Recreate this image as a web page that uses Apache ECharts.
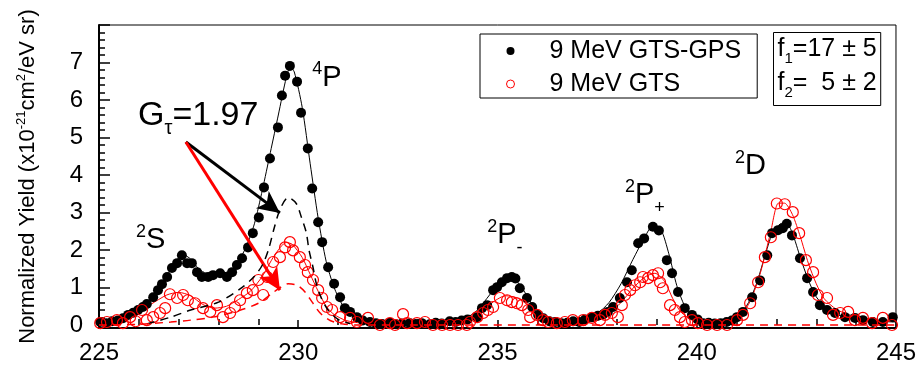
<!DOCTYPE html>
<html>
<head>
<meta charset="utf-8">
<title>Normalized Yield</title>
<script src="https://cdn.jsdelivr.net/npm/echarts@6/dist/echarts.min.js"></script>
<style>
  html, body { margin: 0; padding: 0; background: #fff; }
  #chart { width: 919px; height: 367px; }
</style>
</head>
<body>
<div id="chart"></div>
<script>
// Electron energy (eV) vs normalized yield, two ion-beam settings.
const seriesNames = ['9 MeV GTS-GPS', '9 MeV GTS'];

// 9 MeV GTS-GPS measured points [energy, yield]
const gtsGpsPoints = [
  [225.03, 0.08], [225.18, 0.05], [225.33, 0.10], [225.47, 0.12], [225.60, 0.18],
  [225.73, 0.27], [225.86, 0.33], [225.98, 0.40], [226.10, 0.48], [226.20, 0.56],
  [226.36, 0.74], [226.48, 0.93], [226.58, 1.09], [226.71, 1.28], [226.83, 1.52],
  [226.96, 1.65], [227.08, 1.86], [227.21, 1.65], [227.33, 1.65], [227.46, 1.41],
  [227.58, 1.28], [227.74, 1.28], [227.86, 1.33], [228.04, 1.38], [228.21, 1.28],
  [228.34, 1.41], [228.46, 1.60], [228.59, 1.78], [228.74, 2.07], [228.86, 2.45],
  [229.01, 2.87], [229.14, 3.67], [229.29, 4.44], [229.49, 5.27], [229.59, 6.12],
  [229.67, 6.65], [229.79, 6.91], [229.97, 6.49], [230.07, 5.66], [230.24, 4.71],
  [230.35, 3.64], [230.50, 2.74], [230.60, 2.21], [230.75, 1.54], [230.90, 1.10],
  [231.05, 0.74], [231.17, 0.45], [231.30, 0.35], [231.47, 0.21], [231.62, 0.12],
  [231.80, 0.08], [231.95, 0.05], [232.10, 0.03], [232.30, 0.06], [232.45, 0.02],
  [232.60, 0.04], [232.80, 0.05], [232.95, 0.03], [233.10, 0.05], [233.30, 0.02],
  [233.45, 0.06], [233.60, 0.04], [233.80, 0.10], [233.95, 0.08], [234.10, 0.12],
  [234.25, 0.15], [234.49, 0.21], [234.61, 0.45], [234.74, 0.53], [234.89, 0.93],
  [234.99, 1.01], [235.11, 1.14], [235.24, 1.25], [235.36, 1.28], [235.45, 1.24],
  [235.56, 0.98], [235.74, 0.72], [235.87, 0.48], [236.02, 0.27], [236.15, 0.18],
  [236.30, 0.10], [236.45, 0.08], [236.60, 0.05], [236.75, 0.06], [236.90, 0.10],
  [237.05, 0.08], [237.20, 0.15], [237.37, 0.21], [237.52, 0.25], [237.65, 0.28],
  [237.77, 0.35], [237.90, 0.48], [238.07, 0.72], [238.25, 1.14], [238.37, 1.46],
  [238.53, 2.18], [238.68, 2.31], [238.90, 2.62], [239.05, 2.52], [239.25, 1.73],
  [239.38, 1.38], [239.53, 0.88], [239.70, 0.45], [239.88, 0.27], [240.02, 0.15],
  [240.16, 0.05], [240.30, 0.06], [240.45, 0.04], [240.60, 0.05], [240.75, 0.08],
  [240.88, 0.12], [241.01, 0.21], [241.16, 0.35], [241.39, 0.74], [241.59, 1.19],
  [241.77, 1.86], [241.89, 2.45], [242.04, 2.53], [242.16, 2.58], [242.26, 2.70],
  [242.39, 2.39], [242.59, 1.78], [242.77, 1.25], [242.92, 0.88], [243.09, 0.53],
  [243.27, 0.40], [243.47, 0.32], [243.72, 0.21], [243.97, 0.19], [244.17, 0.13],
  [244.42, 0.08], [244.67, 0.08], [244.92, 0.21]
];

// 9 MeV GTS measured points [energy, yield]
const gtsPoints = [
  [225.03, 0.05], [225.20, 0.08], [225.45, 0.13], [225.60, 0.05], [225.78, 0.21],
  [225.92, 0.10], [226.08, 0.40], [226.20, 0.13], [226.36, 0.21], [226.53, 0.32],
  [226.66, 0.45], [226.78, 0.82], [226.96, 0.72], [227.11, 0.80], [227.23, 0.66],
  [227.41, 0.58], [227.61, 0.45], [227.79, 0.35], [227.96, 0.53], [228.11, 0.21],
  [228.29, 0.32], [228.41, 0.48], [228.54, 0.66], [228.71, 0.85], [228.86, 0.93],
  [229.00, 1.20], [229.12, 0.80], [229.22, 1.28], [229.37, 1.68], [229.54, 1.81],
  [229.67, 2.07], [229.79, 2.21], [229.87, 1.99], [230.04, 1.81], [230.17, 1.60],
  [230.24, 1.41], [230.37, 1.20], [230.50, 0.93], [230.60, 0.72], [230.72, 0.48],
  [230.85, 0.40], [231.05, 0.21], [231.30, 0.19], [231.47, 0.08], [231.75, 0.19],
  [232.05, 0.00], [232.30, 0.05], [232.43, 0.00], [232.63, 0.29], [232.73, 0.05],
  [232.98, 0.05], [233.18, 0.08], [233.38, 0.00], [233.61, 0.00], [233.81, 0.00],
  [234.01, 0.00], [234.23, 0.00], [234.31, 0.08], [234.49, 0.21], [234.64, 0.32],
  [234.76, 0.40], [234.89, 0.48], [235.06, 0.72], [235.24, 0.66], [235.36, 0.61],
  [235.49, 0.58], [235.61, 0.53], [235.77, 0.40], [235.82, 0.21], [235.99, 0.27],
  [236.14, 0.13], [236.27, 0.08], [236.49, 0.05], [236.69, 0.08], [236.89, 0.13],
  [237.15, 0.13], [237.37, 0.19], [237.57, 0.13], [237.70, 0.27], [237.87, 0.32],
  [238.02, 0.21], [238.12, 0.53], [238.20, 0.80], [238.33, 0.93], [238.45, 1.06],
  [238.58, 1.14], [238.65, 1.28], [238.78, 1.25], [238.90, 1.33], [239.03, 1.38],
  [239.08, 1.14], [239.15, 0.98], [239.33, 0.53], [239.45, 0.40], [239.58, 0.21],
  [239.70, 0.08], [239.88, 0.13], [240.03, 0.05], [240.26, 0.00], [240.51, 0.00],
  [240.76, 0.00], [241.01, 0.13], [241.16, 0.27], [241.34, 0.58], [241.54, 1.14],
  [241.71, 1.81], [241.86, 2.34], [242.01, 3.24], [242.21, 3.22], [242.41, 3.01],
  [242.57, 2.45], [242.74, 1.73], [242.92, 1.41], [243.04, 0.80], [243.27, 0.72],
  [243.42, 0.27], [243.60, 0.32], [243.80, 0.35], [243.97, 0.13], [244.17, 0.19],
  [244.40, 0.05], [244.67, 0.19], [244.90, 0.00]
];

// Fitted curves through each data set
const gtsGpsFit = [
  [225.0, 0.03], [225.4, 0.08], [225.8, 0.22], [226.1, 0.42], [226.4, 0.80],
  [226.7, 1.30], [226.9, 1.65], [227.1, 1.88], [227.3, 1.76], [227.5, 1.50],
  [227.7, 1.38], [228.0, 1.37], [228.3, 1.45], [228.5, 1.70], [228.7, 2.10],
  [228.9, 2.70], [229.1, 3.60], [229.3, 4.60], [229.5, 5.60], [229.7, 6.60],
  [229.8, 6.88], [229.9, 6.75], [230.1, 5.80], [230.3, 4.30], [230.5, 2.85],
  [230.7, 1.70], [230.9, 1.00], [231.1, 0.55], [231.3, 0.30], [231.6, 0.12],
  [232.0, 0.05], [233.0, 0.03], [233.8, 0.08], [234.2, 0.18], [234.5, 0.40],
  [234.8, 0.80], [235.0, 1.05], [235.3, 1.30], [235.5, 1.15], [235.7, 0.85],
  [235.9, 0.50], [236.1, 0.28], [236.4, 0.12], [236.8, 0.08], [237.2, 0.15],
  [237.5, 0.30], [237.8, 0.60], [238.1, 1.10], [238.4, 1.75], [238.7, 2.35],
  [238.9, 2.65], [239.1, 2.55], [239.3, 1.90], [239.5, 1.05], [239.7, 0.50],
  [239.9, 0.22], [240.2, 0.07], [240.6, 0.05], [240.9, 0.15], [241.1, 0.30],
  [241.3, 0.60], [241.5, 1.10], [241.7, 1.80], [241.9, 2.45], [242.1, 2.70],
  [242.25, 2.72], [242.4, 2.45], [242.6, 1.80], [242.8, 1.20], [243.0, 0.75],
  [243.3, 0.40], [243.6, 0.25], [244.0, 0.15], [244.5, 0.10], [245.0, 0.08]
];

const gtsFit = [
  [225.0, 0.02], [225.5, 0.10], [225.9, 0.30], [226.3, 0.55], [226.7, 0.80],
  [227.0, 0.87], [227.3, 0.78], [227.6, 0.55], [227.9, 0.45], [228.2, 0.50],
  [228.5, 0.68], [228.8, 0.90], [229.1, 1.30], [229.4, 1.85], [229.7, 2.20],
  [229.85, 2.15], [230.1, 1.80], [230.3, 1.35], [230.5, 0.90], [230.7, 0.50],
  [230.9, 0.28], [231.2, 0.12], [231.6, 0.05], [232.5, 0.02], [233.5, 0.03],
  [234.2, 0.12], [234.6, 0.35], [234.9, 0.62], [235.2, 0.78], [235.5, 0.72],
  [235.8, 0.50], [236.1, 0.25], [236.5, 0.10], [237.0, 0.05], [237.5, 0.12],
  [237.8, 0.30], [238.1, 0.60], [238.4, 0.98], [238.7, 1.28], [238.95, 1.38],
  [239.2, 1.15], [239.4, 0.70], [239.6, 0.35], [239.9, 0.12], [240.3, 0.04],
  [240.8, 0.06], [241.1, 0.25], [241.35, 0.65], [241.6, 1.40], [241.85, 2.45],
  [242.05, 3.25], [242.2, 3.25], [242.4, 2.95], [242.6, 2.35], [242.8, 1.65],
  [243.0, 1.10], [243.2, 0.70], [243.5, 0.42], [243.8, 0.28], [244.2, 0.18],
  [244.6, 0.12], [245.0, 0.10]
];

// 4P component of each fit (dashed)
const gtsGpsComponent = [
  [226.2, 0.03], [226.8, 0.21], [227.3, 0.40], [228.0, 0.61], [228.6, 1.01],
  [228.9, 1.30], [229.1, 1.60], [229.25, 2.00], [229.4, 2.60], [229.55, 3.10],
  [229.75, 3.40], [229.95, 3.24], [230.08, 2.87], [230.2, 2.47], [230.27, 2.00],
  [230.37, 1.54], [230.45, 1.12], [230.57, 0.74], [230.75, 0.40], [231.0, 0.15],
  [231.3, 0.04]
];

const gtsComponent = [
  [225.0, 0.00], [226.0, 0.02], [226.8, 0.08], [227.3, 0.13], [227.85, 0.21],
  [228.5, 0.38], [229.0, 0.58], [229.35, 0.85], [229.55, 1.00], [229.75, 1.10],
  [229.97, 1.06], [230.17, 0.88], [230.35, 0.61], [230.55, 0.32], [230.8, 0.12],
  [231.1, 0.03], [231.5, 0.00], [245.0, 0.00]
];

// Axis ticks
const xLabels = [225, 230, 235, 240, 245];
const yLabels = [0, 1, 2, 3, 4, 5, 6, 7];

// Fit factors and the G_tau value
const fFactors = [['1', '17', '5'], ['2', '5', '2']];
const gTau = 1.97;

// Peak names: [superscript, letter, subscript, energy, yield] for the label anchor
const peakLabels = [
  ['2', 'S', '', 225.93, 2.26],
  ['4', 'P', '', 230.35, 6.60],
  ['2', 'P', '-', 234.74, 2.39],
  ['2', 'P', '+', 238.20, 3.46],
  ['2', 'D', '', 240.96, 4.23]
];

const FONT = '"Liberation Sans", Arial, Helvetica, sans-serif';
const xMin = 225, xMax = 245;
const yMin = -0.08, yMax = 8;

// tick positions: majors carry labels, minors fill between
const xMinor = [];
for (let e = xMin + 1; e < xMax; e++) { if ((e - xMin) % 5 !== 0) xMinor.push(e); }
const yMajor = [0, 1, 2, 3, 4, 5, 6, 7, 8];
const yMinor = [];
for (let i = 1; i < 40; i++) { if (i % 5 !== 0) yMinor.push(+(i * 0.2).toFixed(1)); }

const chart = echarts.init(document.getElementById('chart'), null, { renderer: 'canvas' });

const peakRich = {
  sup: { fontSize: 18, lineHeight: 14, verticalAlign: 'top', padding: [5, 0, 0, 0], fontFamily: FONT, color: '#000' },
  sub: { fontSize: 18, lineHeight: 14, verticalAlign: 'bottom', fontFamily: FONT, color: '#000' },
  main: { fontSize: 29, lineHeight: 44, fontFamily: FONT, color: '#000' }
};

const tickStyle = { color: '#000', width: 1.5 };

const option = {
  animation: false,
  backgroundColor: '#fff',
  textStyle: { fontFamily: FONT },
  grid: {
    left: 99, right: 23, top: 25, bottom: 39,
    show: true, borderColor: '#000', borderWidth: 1, backgroundColor: 'transparent'
  },
  legend: {
    data: [
      { name: seriesNames[0], icon: 'circle', itemStyle: { color: '#000', borderWidth: 0, opacity: 1 } },
      { name: seriesNames[1], icon: 'circle', itemStyle: { color: 'rgba(0,0,0,0)', borderColor: '#ff0000', borderWidth: 1 } }
    ],
    orient: 'vertical',
    left: 480, top: 34,
    itemWidth: 8, itemHeight: 8, itemGap: 7,
    padding: [4, 16, 1, 26],
    borderColor: '#000', borderWidth: 1,
    selectedMode: false,
    textStyle: { fontSize: 25, lineHeight: 26, color: '#000', fontFamily: FONT, padding: [0, 0, 0, 30] }
  },
  xAxis: [
    {
      type: 'value', min: xMin, max: xMax,
      axisLine: { show: true, onZero: false, lineStyle: { color: '#000', width: 2 } },
      axisTick: { show: true, inside: true, length: 8, customValues: xLabels, lineStyle: tickStyle },
      splitLine: { show: false },
      axisLabel: { fontSize: 24, color: '#000', fontFamily: FONT, margin: 13, customValues: xLabels }
    },
    {
      type: 'value', min: xMin, max: xMax, position: 'bottom',
      axisLine: { show: false },
      axisTick: { show: true, inside: true, length: 6, customValues: xMinor, lineStyle: tickStyle },
      axisLabel: { show: false },
      splitLine: { show: false }
    }
  ],
  yAxis: [
    {
      type: 'value', min: yMin, max: yMax,
      name: 'Normalized Yield (x10{sup|-21}cm{sup|2}/eV sr)',
      nameLocation: 'middle', nameRotate: 90, nameGap: 58,
      nameTextStyle: {
        fontSize: 22, lineHeight: 26, color: '#000', fontFamily: FONT,
        rich: { sup: { fontSize: 13, lineHeight: 13, verticalAlign: 'top', fontFamily: FONT, color: '#000' } }
      },
      axisLine: { show: true, onZero: false, lineStyle: { color: '#000', width: 2 } },
      axisTick: { show: true, inside: true, length: 11, customValues: yMajor, lineStyle: tickStyle },
      splitLine: { show: false },
      axisLabel: { fontSize: 24, color: '#000', fontFamily: FONT, margin: 16, customValues: yLabels }
    },
    {
      type: 'value', min: yMin, max: yMax, position: 'left',
      axisLine: { show: false },
      axisTick: { show: true, inside: true, length: 6, customValues: yMinor, lineStyle: tickStyle },
      axisLabel: { show: false },
      splitLine: { show: false }
    }
  ],
  series: [
    {
      name: 'GTS-GPS fit', type: 'line', data: gtsGpsFit, smooth: 0.25,
      showSymbol: false, symbol: 'none', z: 2, silent: true,
      lineStyle: { color: '#000', width: 1 },
      markPoint: {
        silent: true, symbol: 'circle', symbolSize: 0,
        itemStyle: { color: 'rgba(0,0,0,0)' },
        label: { show: true, position: 'right', distance: 0 },
        data: peakLabels.map(p => ({
          coord: [p[3], p[4]],
          label: {
            formatter: '{sup|' + p[0] + '}{main|' + p[1] + '}' + (p[2] ? '{sub|' + p[2] + '}' : ''),
            rich: peakRich
          }
        })).concat([{
          coord: [225.98, 5.59],
          label: {
            formatter: '{main|G}{sub|τ}{main|=' + gTau.toFixed(2) + '}',
            rich: {
              main: { fontSize: 34, lineHeight: 46, fontFamily: FONT, color: '#000' },
              sub: { fontSize: 20, lineHeight: 20, verticalAlign: 'bottom', fontFamily: FONT, color: '#000' }
            }
          }
        }])
      }
    },
    {
      name: 'GTS fit', type: 'line', data: gtsFit, smooth: 0.25,
      showSymbol: false, symbol: 'none', z: 2, silent: true,
      lineStyle: { color: '#ff0000', width: 1 }
    },
    {
      name: seriesNames[0], type: 'scatter', data: gtsGpsPoints,
      symbol: 'circle', symbolSize: 10, z: 3, silent: true,
      itemStyle: { color: '#000', opacity: 1 }
    },
    {
      name: seriesNames[1], type: 'scatter', data: gtsPoints,
      symbol: 'circle', symbolSize: 11, z: 4, silent: true,
      itemStyle: { color: 'rgba(0,0,0,0)', borderColor: '#ff0000', borderWidth: 1.2, opacity: 1 }
    },
    {
      name: 'GTS-GPS 4P component', type: 'line', data: gtsGpsComponent, smooth: 0.3,
      showSymbol: false, symbol: 'none', z: 5, silent: true,
      lineStyle: { color: '#000', width: 1.5, type: [8, 6] },
      markLine: {
        silent: true, symbol: ['none', 'arrow'], symbolSize: [16, 22],
        label: { show: false },
        data: [
          [{ coord: [227.18, 4.88], lineStyle: { color: '#000', width: 3, type: 'solid' } }, { coord: [229.54, 2.99] }],
          [{ coord: [227.18, 4.88], lineStyle: { color: '#ff0000', width: 3, type: 'solid' } }, { coord: [229.54, 0.93] }]
        ]
      }
    },
    {
      name: 'GTS 4P component', type: 'line', data: gtsComponent, smooth: 0.3,
      showSymbol: false, symbol: 'none', z: 5, silent: true,
      lineStyle: { color: '#ff0000', width: 1.5, type: [8, 6] }
    }
  ],
  graphic: [
    {
      type: 'text', left: 773, top: 32, z: 10,
      style: {
        text: fFactors.map(f => 'f{sub|' + f[0] + '}=' + (f[1].length < 2 ? '  ' : '') + f[1] + ' ± ' + f[2]).join('\n'),
        font: '25px ' + FONT, fill: '#000', lineHeight: 34,
        rich: { sub: { fontSize: 15, lineHeight: 15, verticalAlign: 'bottom', fontFamily: FONT, fill: '#000' } },
        borderColor: '#000', borderWidth: 1, padding: [0, 4, 5, 4]
      }
    }
  ]
};

chart.setOption(option);
</script>
</body>
</html>
